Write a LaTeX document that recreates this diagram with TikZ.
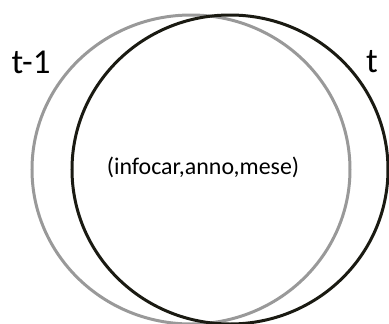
\documentclass[tikz,border=0pt]{standalone}
\usepackage{fontspec}
\setmainfont{Carlito}
\usetikzlibrary{shapes.geometric}
\definecolor{oldgray}{HTML}{999999}
\definecolor{newblack}{HTML}{1A1A12}
\begin{document}
\begin{tikzpicture}[x=1bp,y=-1bp]
        \useasboundingbox (0,0) rectangle (389,324);
        \node[shape=ellipse,draw=oldgray,line width=3bp,minimum width=318bp,minimum height=309bp,inner sep=0pt] (prev) at (191,169.5) {};
        \node[shape=ellipse,draw=newblack,line width=3bp,minimum width=316bp,minimum height=309bp,inner sep=0pt] (curr) at (230,169.5) {};
        \node[font=\fontsize{24}{28}\selectfont,inner sep=0pt] (key) at (203,167) {(infocar,anno,mese)};
        \node[font=\fontsize{35}{40}\selectfont,inner sep=0pt] (lprev) at (31,62) {t-1};
        \node[font=\fontsize{35}{40}\selectfont,inner sep=0pt] (lcurr) at (372,62) {t};
        \end{tikzpicture}
\end{document}
